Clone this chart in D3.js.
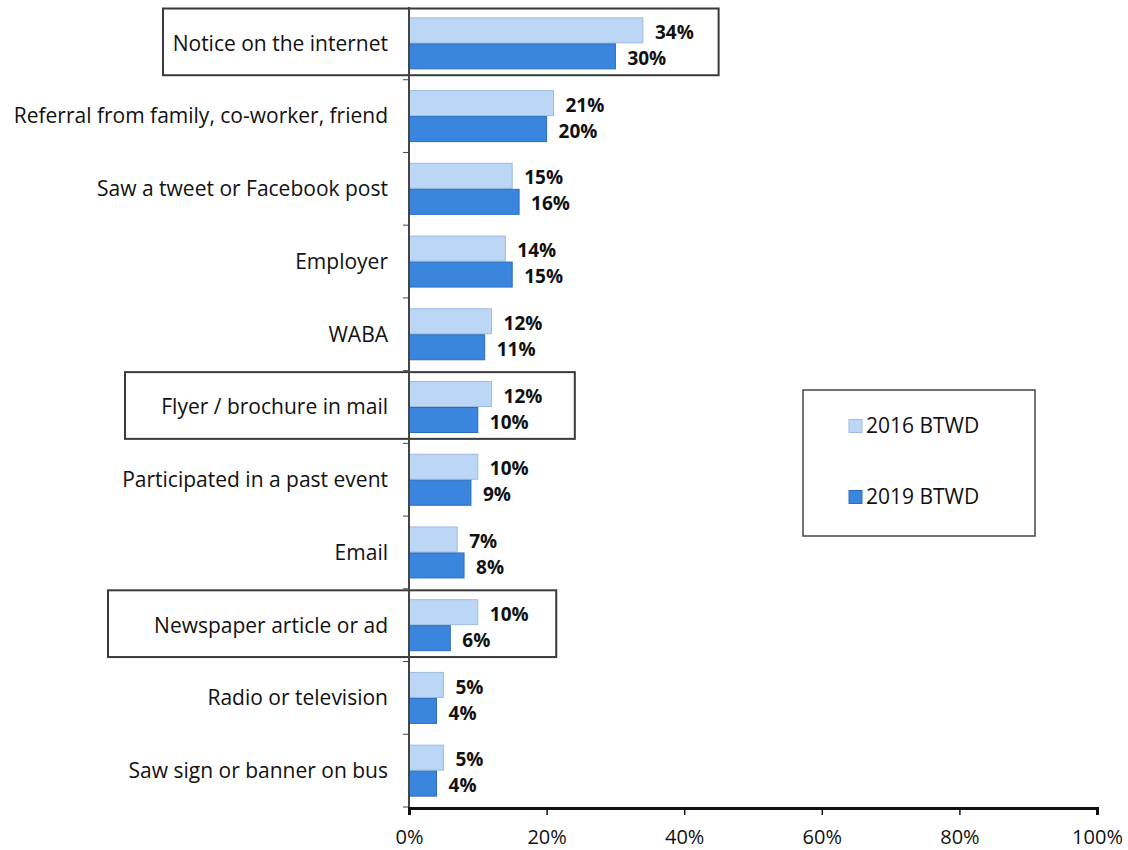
<!DOCTYPE html>
<html>
<head>
<meta charset="utf-8">
<script src="https://cdn.jsdelivr.net/npm/d3@7"></script>
<style>
  html, body { margin: 0; padding: 0; background: #fff; }
  svg { display: block; font-family: "Open Sans", Lato, sans-serif; }
</style>
</head>
<body>
<svg id="chart" width="1128" height="850"></svg>
<script>
// Where respondents heard about the event
const categories = [
  "Notice on the internet",
  "Referral from family, co-worker, friend",
  "Saw a tweet or Facebook post",
  "Employer",
  "WABA",
  "Flyer / brochure in mail",
  "Participated in a past event",
  "Email",
  "Newspaper article or ad",
  "Radio or television",
  "Saw sign or banner on bus"
];
const series = ["2016 BTWD", "2019 BTWD"];
const values2016 = [34, 21, 15, 14, 12, 12, 10, 7, 10, 5, 5];
const values2019 = [30, 20, 16, 15, 11, 10, 9, 8, 6, 4, 4];
const xTicks = [0, 20, 40, 60, 80, 100];

// Outlined rows (left edge in px, right edge in % units)
const highlighted = ["Notice on the internet", "Flyer / brochure in mail", "Newspaper article or ad"];
const highlightLeft = [163, 125, 108];
const highlightRight = [45, 24.1, 21.4];

const colors = { fill: ["#bcd6f6", "#3a86de"], stroke: ["#9dbbe0", "#2c6cbd"] };
const FONT = "'Open Sans', Lato, sans-serif";

const svg = d3.select("#chart");
const m = { left: 409, right: 1097, top: 7, bottom: 807 };

const x = d3.scaleLinear().domain([0, 100]).range([m.left, m.right]);
const y = d3.scaleBand().domain(categories).range([m.top, m.bottom]);
const bw = y.bandwidth();
const barH = 26;
const barTop = (cat) => y(cat) + bw / 2 - barH + 0.5;

const data = categories.map((c, i) => ({ cat: c, v: [values2016[i], values2019[i]] }));

// Highlight boxes
highlighted.forEach((c, i) => {
  svg.append("rect")
    .attr("x", highlightLeft[i])
    .attr("y", y(c) + 1.5)
    .attr("width", x(highlightRight[i]) - highlightLeft[i])
    .attr("height", bw - 6)
    .attr("fill", "none")
    .attr("stroke", "#3a3a3a")
    .attr("stroke-width", 2);
});

// Bars
const rows = svg.append("g").selectAll("g").data(data).join("g");
[0, 1].forEach(s => {
  rows.append("rect")
    .attr("x", x(0))
    .attr("y", d => barTop(d.cat) + s * barH)
    .attr("width", d => x(d.v[s]) - x(0))
    .attr("height", barH - 1)
    .attr("fill", colors.fill[s])
    .attr("stroke", colors.stroke[s])
    .attr("stroke-width", 1);
  rows.append("text")
    .attr("x", d => x(d.v[s]) + 12)
    .attr("y", d => barTop(d.cat) + s * barH + barH / 2 + 1.5)
    .attr("dy", "0.35em")
    .attr("font-size", 19)
    .attr("font-weight", "bold")
    .attr("fill", "#111")
    .text(d => d.v[s] + "%");
});

// Category labels
svg.append("g").selectAll("text").data(categories).join("text")
  .attr("x", 388)
  .attr("y", d => y(d) + bw / 2)
  .attr("dy", "0.35em")
  .attr("text-anchor", "end")
  .attr("font-size", 21)
  .attr("fill", "#111")
  .text(d => d);

// Vertical axis with ticks between categories
const yAxis = svg.append("g");
yAxis.append("line")
  .attr("x1", x(0)).attr("x2", x(0))
  .attr("y1", m.top).attr("y2", m.bottom + 2)
  .attr("stroke", "#444").attr("stroke-width", 2);
yAxis.selectAll("line.tick").data(categories)
  .join("line").attr("class", "tick")
  .attr("x1", x(0) - 6).attr("x2", x(0))
  .attr("y1", (d, i) => m.top + (i + 1) * bw)
  .attr("y2", (d, i) => m.top + (i + 1) * bw)
  .attr("stroke", "#444").attr("stroke-width", 1);

// Horizontal axis
const xAxis = svg.append("g")
  .attr("transform", `translate(0,${m.bottom + 1})`)
  .call(d3.axisBottom(x).tickValues(xTicks).tickFormat(d => d + "%").tickSize(7).tickPadding(15));
xAxis.select(".domain").attr("stroke", "#111").attr("stroke-width", 3);
xAxis.selectAll(".tick line").attr("stroke", "#111").attr("stroke-width", 1.5);
xAxis.selectAll(".tick text")
  .attr("font-size", 20)
  .attr("font-family", FONT)
  .attr("fill", "#111");

// Legend
const lg = svg.append("g");
lg.append("rect")
  .attr("x", 803).attr("y", 390).attr("width", 232).attr("height", 146)
  .attr("fill", "#fff").attr("stroke", "#444").attr("stroke-width", 1.5);
series.forEach((s, i) => {
  const cy = 426 + i * 71;
  lg.append("rect")
    .attr("x", 849).attr("y", cy - 6.5).attr("width", 13).attr("height", 13)
    .attr("fill", colors.fill[i]).attr("stroke", colors.stroke[i]);
  lg.append("text")
    .attr("x", 866).attr("y", cy).attr("dy", "0.35em")
    .attr("font-size", 21).attr("fill", "#111")
    .text(s);
});
</script>
</body>
</html>
